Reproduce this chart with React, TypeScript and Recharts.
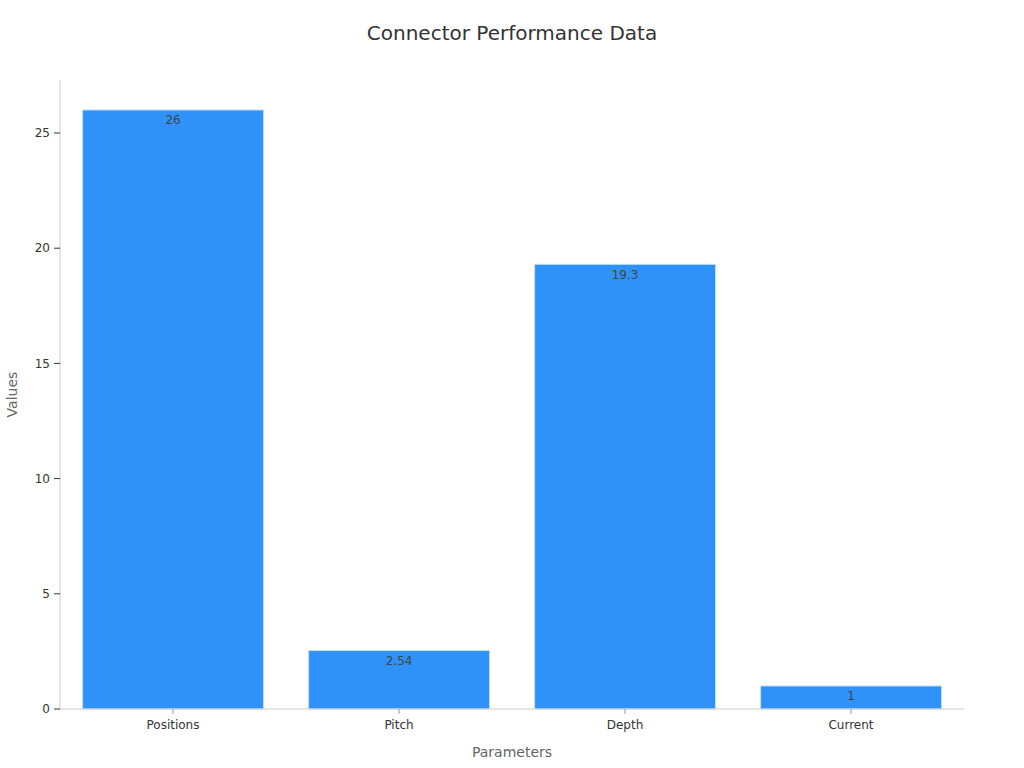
import { BarChart, Bar, XAxis, YAxis, LabelList, Label } from "recharts";

const categories = ["Positions", "Pitch", "Depth", "Current"];
const values = [26, 2.54, 19.3, 1];
const yTicks = [0, 5, 10, 15, 20, 25];

const data = categories.map((name, i) => ({ name, value: values[i] }));

const FONT = "'DejaVu Sans', Verdana, sans-serif";

export default function App() {
  return (
    <div style={{ position: "absolute", left: 0, top: 0, width: 1024, height: 768, background: "#fff", fontFamily: FONT }}>
      <div style={{ position: "absolute", top: 21, left: 0, width: 1024, textAlign: "center", fontSize: 20, color: "#333" }}>
        Connector Performance Data
      </div>
      <BarChart
        width={1024}
        height={768}
        data={data}
        margin={{ top: 80, right: 60, bottom: 0, left: 2 }}
        barCategoryGap="10%"
      >
        <XAxis
          dataKey="name"
          height={59}
          tick={{ fontSize: 12, fill: "#333", fontFamily: FONT }}
          tickLine={{ stroke: "#999" }}
          axisLine={{ stroke: "#ccc" }}
          tickSize={5}
          tickMargin={6}
        >
          <Label
            content={({ viewBox }: any) => (
              <text x={viewBox.x + viewBox.width / 2} y={viewBox.y + 48} textAnchor="middle" fontSize={14} fill="#666" fontFamily={FONT}>
                Parameters
              </text>
            )}
          />
        </XAxis>
        <YAxis
          width={58}
          domain={[0, 27.3]}
          ticks={yTicks}
          tick={{ fontSize: 12, fill: "#333", fontFamily: FONT }}
          tickLine={{ stroke: "#333" }}
          axisLine={{ stroke: "#ccc" }}
          tickSize={6}
          tickMargin={4}
        >
          <Label
            content={({ viewBox }: any) => {
              const cy = viewBox.y + viewBox.height / 2;
              return (
                <text x={17} y={cy} transform={`rotate(-90, 17, ${cy})`} textAnchor="middle" fontSize={14} fill="#666" fontFamily={FONT}>
                  Values
                </text>
              );
            }}
          />
        </YAxis>
        <Bar dataKey="value" fill="#2F92F9" stroke="#c4e0fd" strokeWidth={1} isAnimationActive={false}>
          <LabelList dataKey="value" position="insideTop" offset={6} fill="#444" fontSize={12} fontFamily={FONT} />
        </Bar>
      </BarChart>
    </div>
  );
}
